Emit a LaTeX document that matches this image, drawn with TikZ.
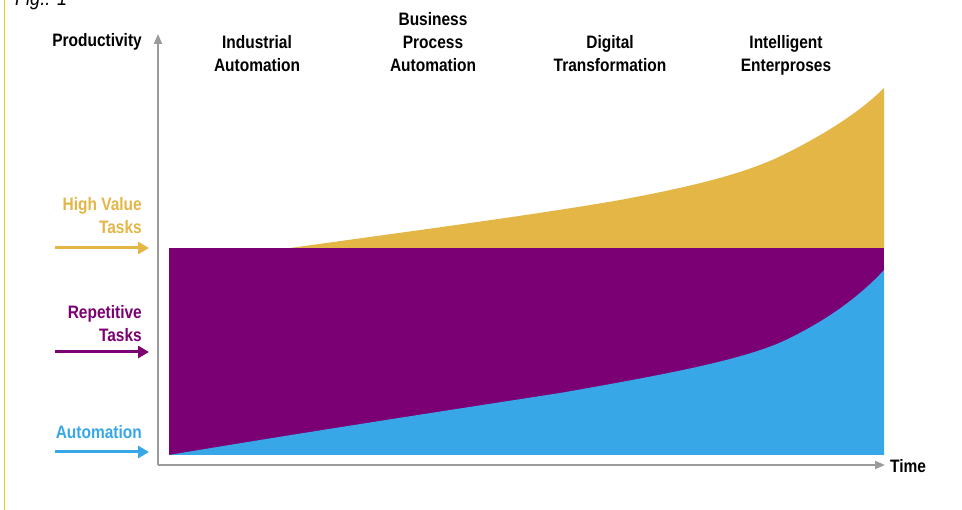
\documentclass[tikz,border=0pt]{standalone}
\usepackage{fontspec}
\setmainfont{Liberation Sans}[FakeStretch=0.86]
\usetikzlibrary{arrows.meta}
\definecolor{cyel}{HTML}{E3B645}
\definecolor{cpur}{HTML}{7B0073}
\definecolor{cblu}{HTML}{38A7E7}
\definecolor{caxis}{HTML}{9B9B9B}
\definecolor{cbar}{HTML}{F0C51C}
\tikzset{
  lbl/.style={font=\fontsize{18}{23}\selectfont\bfseries, inner sep=0pt, align=center},
  sidelbl/.style={font=\fontsize{18}{23}\selectfont\bfseries, inner sep=0pt, align=right, anchor=east},
  axisline/.style={draw=caxis, line width=2pt, -{Triangle[length=10pt,width=8pt]}},
  sidearrow/.style={line width=3pt, -{Triangle[length=11pt,width=12pt]}},
}
\begin{document}
\begin{tikzpicture}[x=1pt,y=-1pt]
\useasboundingbox (0,0) rectangle (962,510);
% left yellow bar
\draw[cbar, line width=1.6pt] (4.5,0) -- (4.5,510);
\node[font=\fontsize{21}{24}\selectfont\itshape, anchor=base west, inner sep=0pt] (fig) at (15,6) {Fig.: 1};
% purple rectangle
\fill[cpur] (169,248) rectangle (884,455);
% yellow region
\fill[cyel] (290,248) .. controls (420,230) and (540,214) .. (620,200)
  .. controls (690,187) and (745,174) .. (785,154)
  .. controls (825,134) and (860,112) .. (884,88) -- (884,248) -- cycle;
% blue region
\fill[cblu] (169,455) .. controls (300,433) and (450,410) .. (560,393)
  .. controls (680,372) and (750,358) .. (790,338)
  .. controls (830,318) and (860,296) .. (884,270) -- (884,455) -- cycle;
% axes
\coordinate (o) at (158,465);
\coordinate (ytop) at (158,34);
\coordinate (xend) at (885,465);
\draw[axisline] (o) -- (ytop);
\draw[axisline] (o) -- (xend);
\node[lbl, anchor=west] (time) at (890,466) {Time};
\node[sidelbl] (prod) at (142,41.5) {Productivity};
% top labels
\node[lbl] (ia) at (257,54) {Industrial\\Automation};
\node[lbl] (bpa) at (433,42) {Business\\Process\\Automation};
\node[lbl] (dt) at (610,54) {Digital\\Transformation};
\node[lbl] (ie) at (786,55) {Intelligent\\Enterproses};
% side labels
\node[sidelbl, text=cyel] (hv) at (142,215.5) {High Value\\Tasks};
\node[sidelbl, text=cpur] (rt) at (142,323.5) {Repetitive\\Tasks};
\node[sidelbl, text=cblu] (au) at (142,432) {Automation};
% side arrows
\coordinate (hva) at (55,248); \coordinate (hvb) at (149,248);
\coordinate (rta) at (55,352); \coordinate (rtb) at (149,352);
\coordinate (aua) at (55,452); \coordinate (aub) at (149,452);
\draw[sidearrow, cyel] (hva) -- (hvb);
\draw[sidearrow, cpur] (rta) -- (rtb);
\draw[sidearrow, cblu] (aua) -- (aub);
\end{tikzpicture}
\end{document}
